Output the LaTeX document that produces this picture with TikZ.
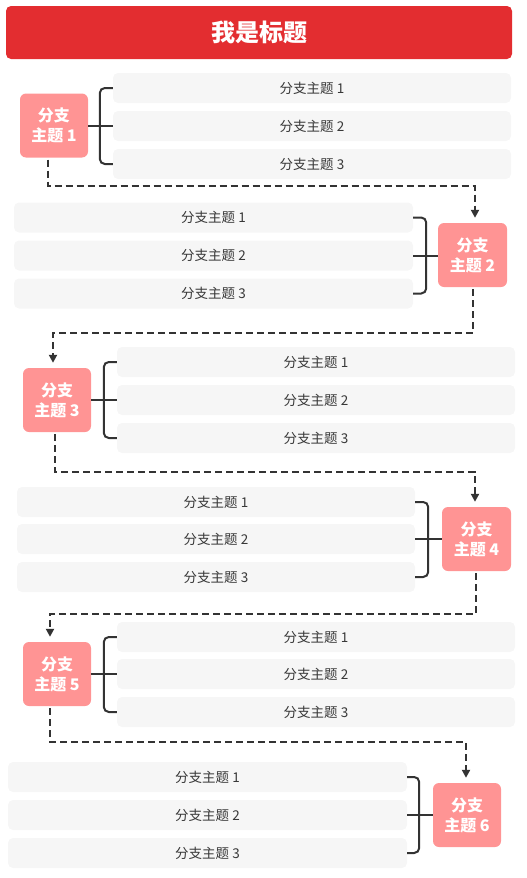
\documentclass[tikz,border=0pt]{standalone}
\usepackage{fontspec}
\setmainfont{Noto Sans CJK SC}
\usetikzlibrary{arrows.meta,calc}
\definecolor{titlered}{HTML}{E32D30}
\definecolor{nodepink}{HTML}{FF9494}
\definecolor{barfill}{HTML}{F6F6F6}
\definecolor{linec}{HTML}{333333}
\definecolor{txtc}{HTML}{383838}
\begin{document}
\begin{tikzpicture}[x=1pt,y=-1pt,
  bar/.style={fill=barfill, rounded corners=5pt, minimum width=398pt, minimum height=30pt, inner sep=0pt, text=txtc, font=\fontsize{13.5}{16}\selectfont},
  mainnode/.style={fill=nodepink, rounded corners=6pt, minimum width=68pt, minimum height=64pt, inner sep=0pt, text=white, align=center, font=\fontsize{16}{20}\bfseries\selectfont},
  brace/.style={draw=linec, line width=2pt, rounded corners=5pt},
  stub/.style={draw=linec, line width=2pt},
  conn/.style={draw=linec, line width=2pt, dash pattern=on 7pt off 4pt, -{Triangle[length=8pt,width=8pt]}, shorten >=5pt, shorten <=2pt}]
\useasboundingbox (0,0) rectangle (527,878);

\node[fill=titlered, rounded corners=5pt, minimum width=506pt, minimum height=53pt, inner sep=0pt, text=white, font=\fontsize{24}{28}\bfseries\selectfont] (title) at (259,32.5) {我是标题};

% section 1
\node[mainnode] (n1) at (54,125.5) {分支\\主题 1};
\node[bar] (a1) at (312,88) {分支主题 1};
\node[bar] (a2) at (312,126) {分支主题 2};
\node[bar] (a3) at (312,164) {分支主题 3};
\draw[brace] (a1.west) -- ++(-13,0) |- (a3.west);
\draw[stub] (n1.east |- a2.west) -- (a2.west);

% section 2
\node[mainnode, minimum width=69pt] (n2) at (472.5,255) {分支\\主题 2};
\node[bar, minimum width=399pt] (b1) at (213.5,217.5) {分支主题 1};
\node[bar, minimum width=399pt] (b2) at (213.5,255.5) {分支主题 2};
\node[bar, minimum width=399pt] (b3) at (213.5,293.5) {分支主题 3};
\draw[brace] (b1.east) -- ++(13,0) |- (b3.east);
\draw[stub] (b2.east) -- (n2.west |- b2.east);

% section 3
\node[mainnode] (n3) at (57,400) {分支\\主题 3};
\node[bar] (c1) at (316,362) {分支主题 1};
\node[bar] (c2) at (316,400) {分支主题 2};
\node[bar] (c3) at (316,438) {分支主题 3};
\draw[brace] (c1.west) -- ++(-13,0) |- (c3.west);
\draw[stub] (n3.east |- c2.west) -- (c2.west);

% section 4
\node[mainnode, minimum width=69pt] (n4) at (476.5,539) {分支\\主题 4};
\node[bar] (d1) at (216,502) {分支主题 1};
\node[bar] (d2) at (216,539) {分支主题 2};
\node[bar] (d3) at (216,577) {分支主题 3};
\draw[brace] (d1.east) -- ++(13,0) |- (d3.east);
\draw[stub] (d2.east) -- (n4.west |- d2.east);

% section 5
\node[mainnode] (n5) at (57,674) {分支\\主题 5};
\node[bar] (e1) at (316,637) {分支主题 1};
\node[bar] (e2) at (316,674) {分支主题 2};
\node[bar] (e3) at (316,712) {分支主题 3};
\draw[brace] (e1.west) -- ++(-13,0) |- (e3.west);
\draw[stub] (n5.east |- e2.west) -- (e2.west);

% section 6
\node[mainnode] (n6) at (467,815) {分支\\主题 6};
\node[bar, minimum width=399pt] (f1) at (207.5,777) {分支主题 1};
\node[bar, minimum width=399pt] (f2) at (207.5,815) {分支主题 2};
\node[bar, minimum width=399pt] (f3) at (207.5,853) {分支主题 3};
\draw[brace] (f1.east) -- ++(12,0) |- (f3.east);
\draw[stub] (f2.east) -- (n6.west |- f2.east);

% dashed connectors
\coordinate (m1) at (475,186);
\coordinate (m2) at (53,333);
\coordinate (m3) at (475,472);
\coordinate (m4) at (50,614);
\coordinate (m5) at (466,742);
\draw[conn] ([xshift=-6pt]n1.south) |- (m1) -- ([xshift=2.5pt]n2.north);
\draw[conn] ([xshift=0.5pt]n2.south) |- (m2) -- ([xshift=-4pt]n3.north);
\draw[conn] ([xshift=-2pt]n3.south) |- (m3) -- ([xshift=-1.5pt]n4.north);
\draw[conn] ([xshift=-0.5pt]n4.south) |- (m4) -- ([xshift=-7pt]n5.north);
\draw[conn] ([xshift=-7pt]n5.south) |- (m5) -- ([xshift=-1pt]n6.north);
\end{tikzpicture}
\end{document}
